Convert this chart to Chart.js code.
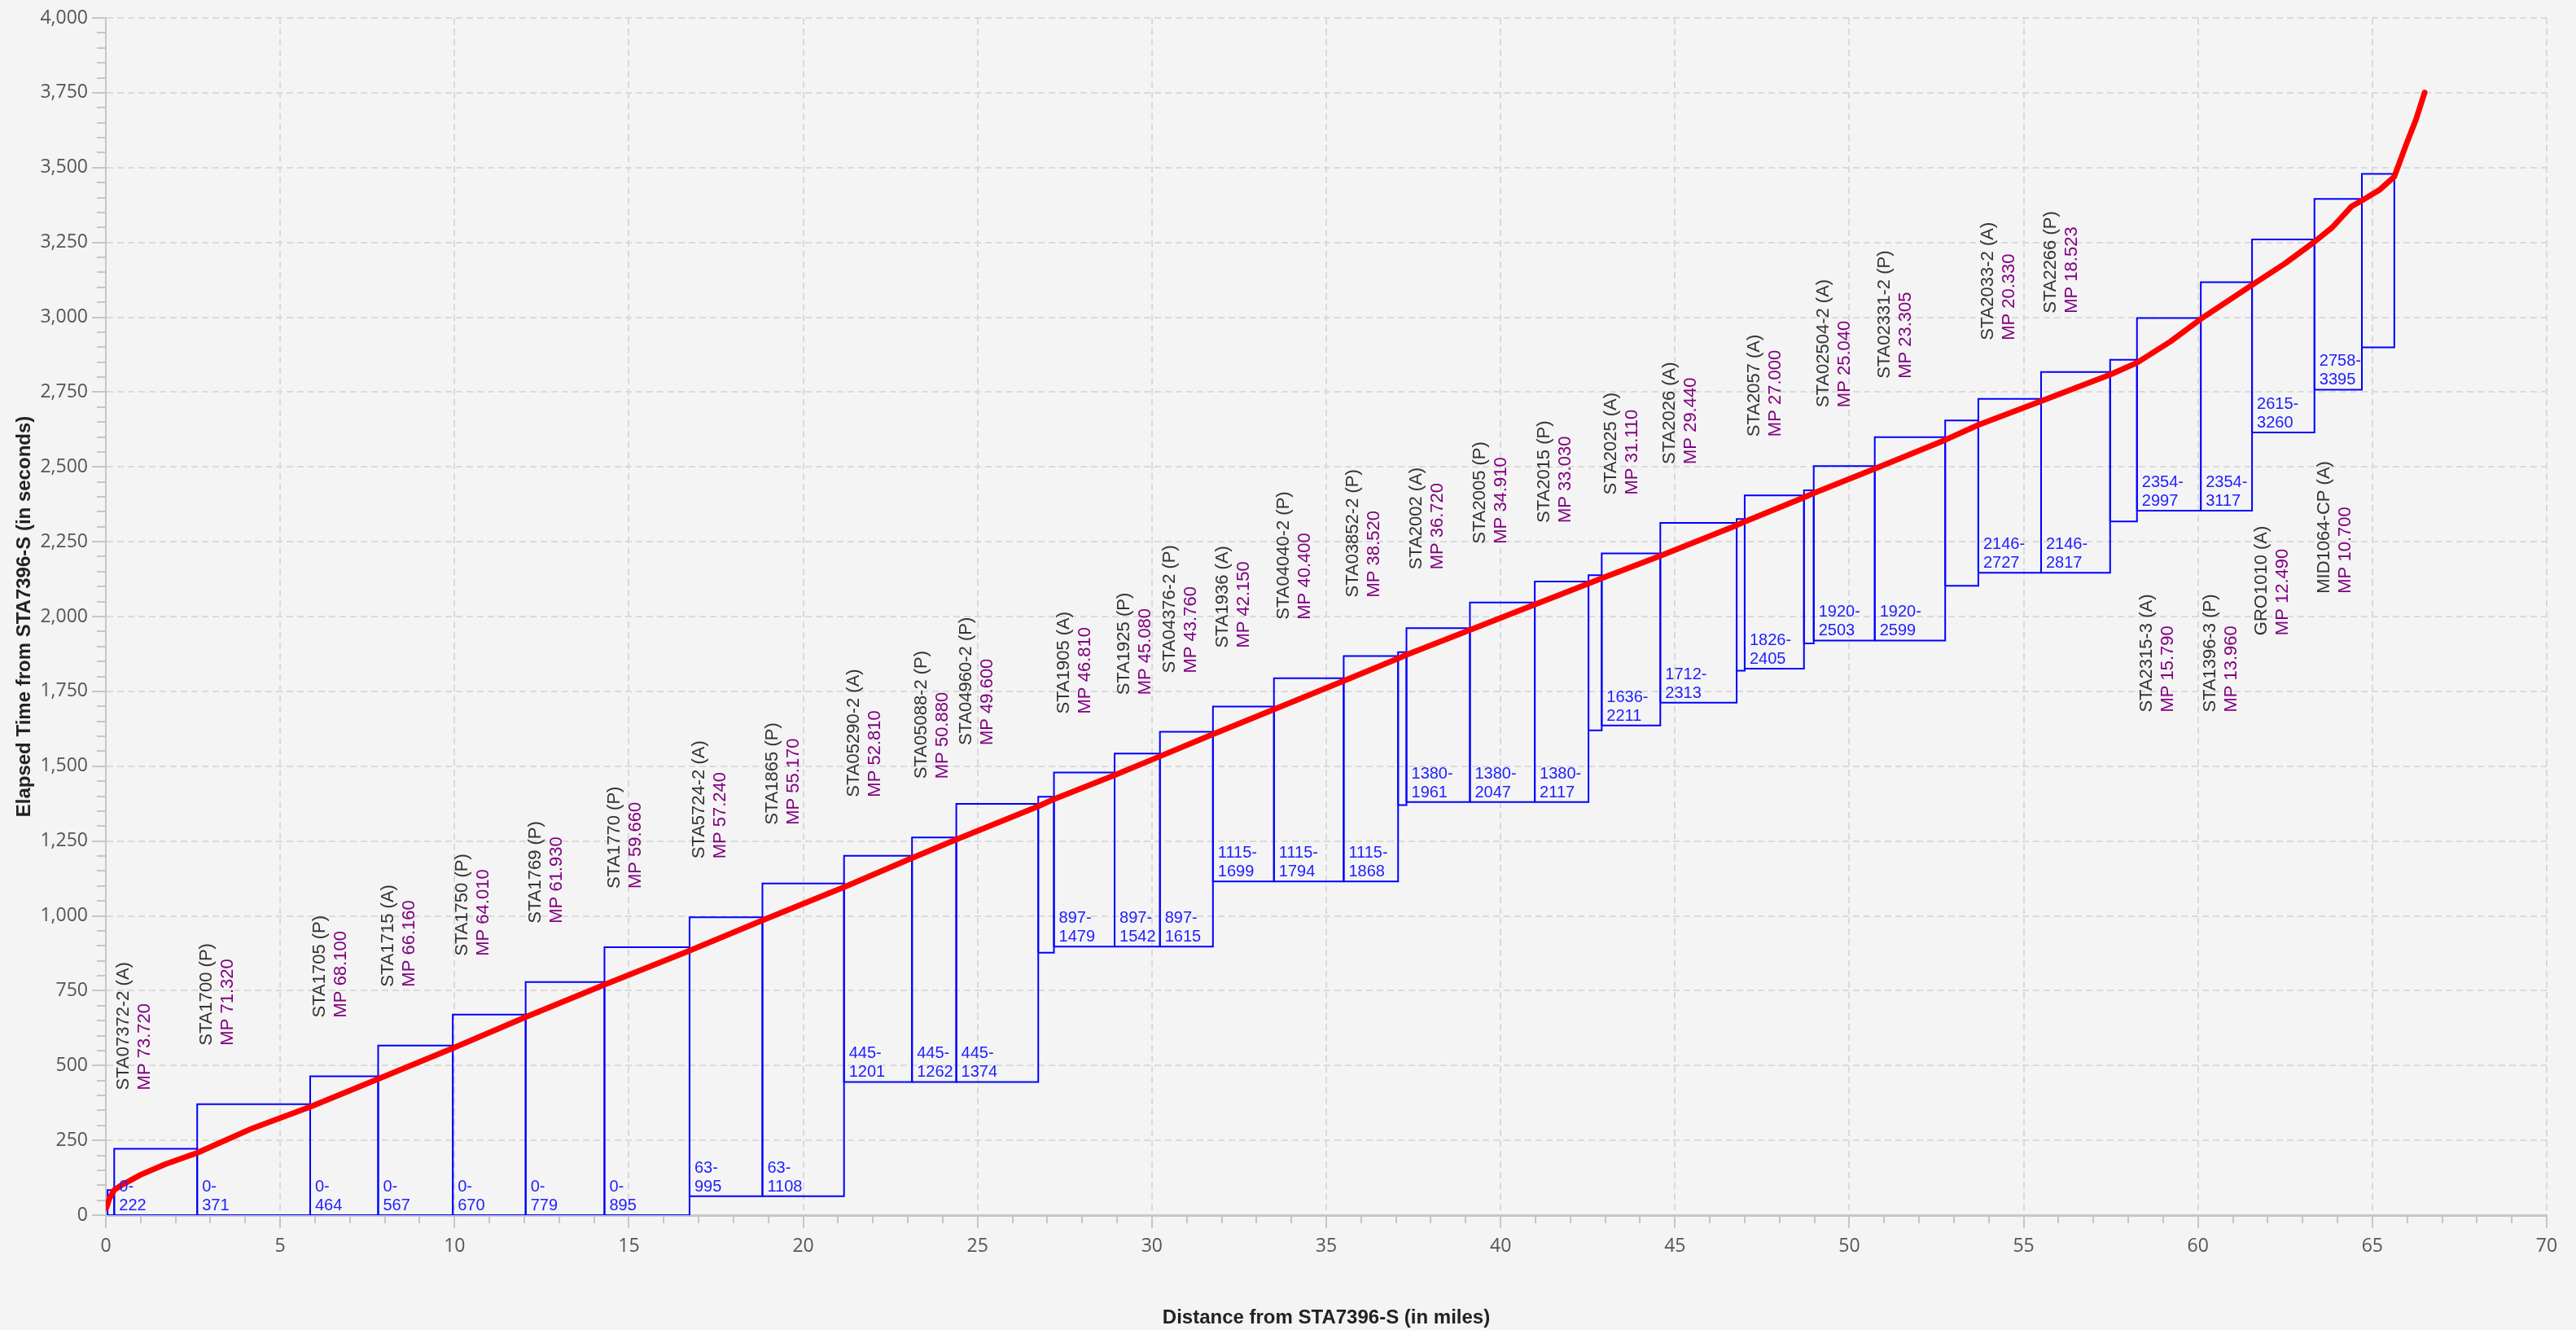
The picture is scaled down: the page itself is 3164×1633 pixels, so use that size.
<!DOCTYPE html>
<html>
<head>
<meta charset="utf-8">
<title>Elapsed Time vs Distance from STA7396-S</title>
<script src="https://cdn.jsdelivr.net/npm/chart.js@4.4.1/dist/chart.umd.min.js"></script>
<style>
  html, body { margin: 0; padding: 0; background: #f4f4f4; }
  canvas { display: block; }
</style>
</head>
<body>
<canvas id="myChart" width="3164" height="1633"></canvas>
<script>
//box edges in miles (last value = right edge of the last box)
const boxEdges = [0.05, 0.24, 2.62, 5.86, 7.81, 9.95, 12.04, 14.3, 16.74, 18.83, 21.17, 23.12, 24.39, 26.74,
  27.19, 28.93, 30.23, 31.75, 33.5, 35.5, 37.06, 37.3, 39.12, 40.98, 42.52, 42.9, 44.58, 46.77, 47.0,
  48.7, 48.98, 50.73, 52.75, 53.7, 55.5, 57.48, 58.25, 60.08, 61.55, 63.34, 64.7, 65.63];
//time window of each box (seconds)
const boxMin = [0, 0, 0, 0, 0, 0, 0, 0, 63, 63, 445, 445, 445, 877, 897, 897, 897, 1115, 1115, 1115, 1370,
  1380, 1380, 1380, 1620, 1636, 1712, 1819, 1826, 1910, 1920, 1920, 2103, 2146, 2146, 2318, 2354, 2354,
  2615, 2758, 2899];
const boxMax = [84, 222, 371, 464, 567, 670, 779, 895, 995, 1108, 1201, 1262, 1374, 1398, 1479, 1542, 1615,
  1699, 1794, 1868, 1881, 1961, 2047, 2117, 2138, 2211, 2313, 2326, 2405, 2422, 2503, 2599, 2655, 2727,
  2817, 2858, 2997, 3117, 3260, 3395, 3479];

//stations (name, mile post, box they belong to)
const stationNames = ['STA07372-2 (A)', 'STA1700 (P)', 'STA1705 (P)', 'STA1715 (A)', 'STA1750 (P)',
  'STA1769 (P)', 'STA1770 (P)', 'STA5724-2 (A)', 'STA1865 (P)', 'STA05290-2 (A)', 'STA05088-2 (P)',
  'STA04960-2 (P)', 'STA1905 (A)', 'STA1925 (P)', 'STA04376-2 (P)', 'STA1936 (A)', 'STA04040-2 (P)',
  'STA03852-2 (P)', 'STA2002 (A)', 'STA2005 (P)', 'STA2015 (P)', 'STA2025 (A)', 'STA2026 (A)',
  'STA2057 (A)', 'STA02504-2 (A)', 'STA02331-2 (P)', 'STA2033-2 (A)', 'STA2266 (P)', 'STA2315-3 (A)',
  'STA1396-3 (P)', 'GRO1010 (A)', 'MID1064-CP (A)'];
const stationMP = ['MP 73.720', 'MP 71.320', 'MP 68.100', 'MP 66.160', 'MP 64.010', 'MP 61.930',
  'MP 59.660', 'MP 57.240', 'MP 55.170', 'MP 52.810', 'MP 50.880', 'MP 49.600', 'MP 46.810', 'MP 45.080',
  'MP 43.760', 'MP 42.150', 'MP 40.400', 'MP 38.520', 'MP 36.720', 'MP 34.910', 'MP 33.030', 'MP 31.110',
  'MP 29.440', 'MP 27.000', 'MP 25.040', 'MP 23.305', 'MP 20.330', 'MP 18.523', 'MP 15.790', 'MP 13.960',
  'MP 12.490', 'MP 10.700'];
const stationBox = [1, 2, 3, 4, 5, 6, 7, 8, 9, 10, 11, 12, 14, 15, 16, 17, 18, 19, 21, 22, 23, 25, 26, 28,
  30, 31, 33, 34, 36, 37, 38, 39];
//stations whose label sits under the box, and where the text starts (seconds)
const lowLabelBox = [36, 37, 38, 39];
const lowLabelStart = [1680, 1680, 1937, 2077];

//train run
const runDist = [0.02, 0.1, 0.24, 0.45, 1.0, 1.7, 2.62, 4.2, 5.86, 7.81, 9.95, 12.04, 14.3, 16.74, 18.83,
  21.17, 23.12, 24.39, 26.74, 27.19, 28.93, 30.23, 31.75, 33.5, 35.5, 37.06, 37.3, 39.12, 40.98, 42.52,
  42.9, 44.58, 46.77, 47.0, 48.7, 48.98, 50.73, 52.75, 53.7, 55.5, 57.48, 58.25, 59.2, 60.08, 61.55, 62.5,
  63.34, 63.85, 64.4, 64.7, 65.2, 65.63, 65.98, 66.25, 66.5];
const runTime = [25, 55, 84, 100, 135, 170, 208, 290, 362, 455, 558, 662, 770, 884, 985, 1096, 1193, 1255,
  1366, 1390, 1470, 1533, 1607, 1690, 1785, 1860, 1872, 1955, 2040, 2110, 2128, 2203, 2305, 2317, 2398,
  2412, 2494, 2590, 2640, 2720, 2808, 2848, 2918, 2994, 3108, 3180, 3252, 3300, 3370, 3390, 3425, 3470,
  3580, 3660, 3751];

const ctx = document.getElementById('myChart').getContext('2d');

//one closed rectangle per box
const boxSets = boxMin.map((lo, i) => ({
  data: [
    {x: boxEdges[i], y: lo}, {x: boxEdges[i], y: boxMax[i]},
    {x: boxEdges[i + 1], y: boxMax[i]}, {x: boxEdges[i + 1], y: lo}, {x: boxEdges[i], y: lo}
  ],
  showLine: true,
  borderColor: 'rgb(0, 0, 255)',
  borderWidth: 2,
  borderJoinStyle: 'miter',
  pointRadius: 0,
  order: 1
}));

const runSet = {
  data: runDist.map((d, i) => ({x: d, y: runTime[i]})),
  showLine: true,
  borderColor: 'rgb(255, 0, 0)',
  borderWidth: 7,
  borderJoinStyle: 'round',
  borderCapStyle: 'round',
  pointRadius: 0,
  order: 0
};

//texts of boxes and stations + minor ticks
const labelPlugin = {
  id: 'labelPlugin',
  afterDatasetsDraw(chart) {
    const {ctx, scales: {x, y}} = chart;
    ctx.save();
    ctx.font = '20px "Liberation Sans"';
    ctx.fillStyle = 'rgb(30, 30, 255)';
    ctx.textAlign = 'left';
    ctx.textBaseline = 'alphabetic';
    stationBox.forEach(b => {
      const px = x.getPixelForValue(boxEdges[b]) + 6;
      const py = y.getPixelForValue(boxMin[b]) - 6;
      ctx.fillText(boxMin[b] + '-', px, py - 23);
      ctx.fillText(String(boxMax[b]), px, py);
    });

    ctx.font = '22px "Liberation Sans"';
    ctx.textBaseline = 'middle';
    stationBox.forEach((b, i) => {
      const px = x.getPixelForValue(boxEdges[b]) + 12;
      const low = lowLabelBox.indexOf(b);
      const py = low >= 0 ? y.getPixelForValue(lowLabelStart[low]) : y.getPixelForValue(boxMax[b]) - 72;
      ctx.save();
      ctx.translate(px, py);
      ctx.rotate(-Math.PI / 2);
      ctx.fillStyle = '#333333';
      ctx.fillText(stationNames[i], 0, 0);
      ctx.fillStyle = '#800080';
      ctx.fillText(stationMP[i], 0, 26);
      ctx.restore();
    });
    ctx.restore();
  },
  afterDraw(chart) {
    const {ctx, chartArea, scales: {x, y}} = chart;
    ctx.save();
    ctx.strokeStyle = '#c6c6c6';
    ctx.lineWidth = 2;
    ctx.beginPath();
    for (let v = 1; v < 70; v++) {
      if (v % 5 === 0) continue;
      const px = Math.round(x.getPixelForValue(v));
      ctx.moveTo(px, chartArea.bottom);
      ctx.lineTo(px, chartArea.bottom + 10);
    }
    for (let v = 50; v < 4000; v += 50) {
      if (v % 250 === 0) continue;
      const py = Math.round(y.getPixelForValue(v));
      ctx.moveTo(chartArea.left, py);
      ctx.lineTo(chartArea.left - 11, py);
    }
    ctx.stroke();
    ctx.restore();
  }
};

const titleFont = {family: '"Liberation Sans"', size: 24, weight: 'bold'};
const tickFont = {family: '"Open Sans"', size: 23};

const myChart = new Chart(ctx, {
  type: 'scatter',
  data: { datasets: [runSet, ...boxSets] },
  options: {
    responsive: false,
    animation: false,
    devicePixelRatio: 1,
    events: [],
    layout: { padding: { top: 22, right: 36, left: 0, bottom: 0 } },
    plugins: { legend: { display: false }, tooltip: { enabled: false } },
    scales: {
      x: {
        type: 'linear', min: 0, max: 70,
        ticks: { stepSize: 5, color: '#555555', font: tickFont, padding: 9, maxRotation: 0, autoSkip: false },
        grid: { color: '#dadada', lineWidth: 2, tickLength: 16, tickColor: '#c6c6c6', tickWidth: 2, tickBorderDash: [] },
        border: { color: '#c6c6c6', width: 3, dash: [8, 5] },
        title: { display: true, text: 'Distance from STA7396-S (in miles)', color: '#222222', font: titleFont, padding: { top: 5, bottom: 0 } },
        afterFit(scale) { scale.height = 141; }
      },
      y: {
        type: 'linear', min: 0, max: 4000,
        ticks: { stepSize: 250, color: '#555555', font: tickFont, padding: 5, callback: v => v.toLocaleString('en-US') },
        grid: { color: '#dadada', lineWidth: 2, tickLength: 17, tickColor: '#c6c6c6', tickWidth: 2, tickBorderDash: [] },
        border: { color: '#c6c6c6', width: 2, dash: [8, 5] },
        title: { display: true, text: 'Elapsed Time from STA7396-S (in seconds)', color: '#222222', font: titleFont, padding: { top: 16, bottom: 0 } },
        afterFit(scale) { scale.width = 130; }
      }
    }
  },
  plugins: [labelPlugin]
});
</script>
</body>
</html>
